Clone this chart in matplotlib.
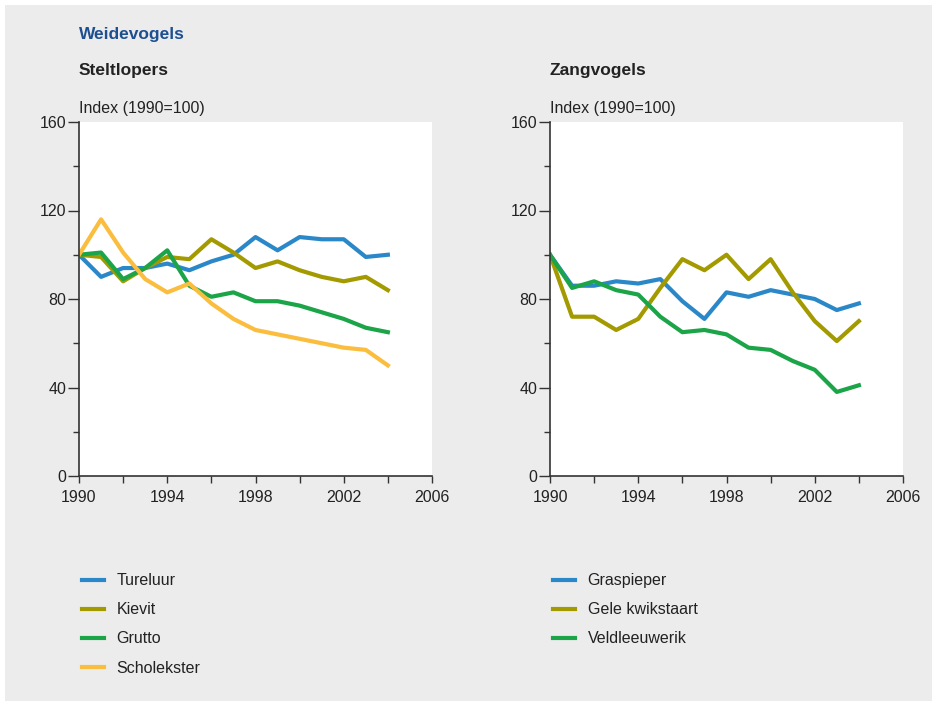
import matplotlib.pyplot as plt
from matplotlib.patches import Rectangle

plt.rcParams['font.family'] = ['Liberation Sans', 'DejaVu Sans']

# Data (index 1990 = 100)
years = list(range(1990, 2005))

tureluur = [100, 90, 94, 94, 96, 93, 97, 100, 108, 102, 108, 107, 107, 99, 100]
kievit = [100, 99, 88, 94, 99, 98, 107, 101, 94, 97, 93, 90, 88, 90, 84]
grutto = [100, 101, 89, 94, 102, 86, 81, 83, 79, 79, 77, 74, 71, 67, 65]
scholekster = [100, 116, 101, 89, 83, 87, 78, 71, 66, 64, 62, 60, 58, 57, 50]

graspieper = [100, 86, 86, 88, 87, 89, 79, 71, 83, 81, 84, 82, 80, 75, 78]
gele_kwikstaart = [100, 72, 72, 66, 71, 85, 98, 93, 100, 89, 98, 83, 70, 61, 70]
veldleeuwerik = [100, 85, 88, 84, 82, 72, 65, 66, 64, 58, 57, 52, 48, 38, 41]

x_major = [1990, 1994, 1998, 2002, 2006]
x_minor = [1992, 1996, 2000, 2004]
y_major = [0, 40, 80, 120, 160]
y_minor = [20, 60, 100, 140]

blue = "#2b88c8"
olive = "#a39a00"
green = "#1ca448"
yellow = "#fbbd3e"

fig = plt.figure(figsize=(9.37, 7.06), dpi=100)
fig.patch.set_facecolor("white")
fig.patches.append(Rectangle((5 / 937, 5 / 706), 927 / 937, 696 / 706,
                             transform=fig.transFigure, facecolor="#ececec",
                             edgecolor="none", zorder=-10))

ax1 = fig.add_axes([79 / 937, 1 - 476 / 706, 353 / 937, 354 / 706])
ax2 = fig.add_axes([550 / 937, 1 - 476 / 706, 353 / 937, 354 / 706])

left_series = [(tureluur, "Tureluur", blue), (kievit, "Kievit", olive),
               (grutto, "Grutto", green), (scholekster, "Scholekster", yellow)]
right_series = [(graspieper, "Graspieper", blue),
                (gele_kwikstaart, "Gele kwikstaart", olive),
                (veldleeuwerik, "Veldleeuwerik", green)]

for ax, series in [(ax1, left_series), (ax2, right_series)]:
    for vals, name, col in series:
        ax.plot(years, vals, color=col, lw=3, label=name)
    ax.set_facecolor("white")
    ax.set_xlim(1990, 2006)
    ax.set_ylim(0, 160)
    ax.set_xticks(x_major)
    ax.set_xticks(x_minor, minor=True)
    ax.set_yticks(y_major)
    ax.set_yticks(y_minor, minor=True)
    for s in ["top", "right"]:
        ax.spines[s].set_visible(False)
    for s in ["left", "bottom"]:
        ax.spines[s].set_color("#333333")
        ax.spines[s].set_linewidth(1.2)
    ax.tick_params(which="both", direction="out", colors="#333333",
                   labelcolor="#222222", labelsize=11.5, width=1)
    ax.tick_params(axis="y", which="major", length=8, pad=1)
    ax.tick_params(axis="y", which="minor", length=4)
    ax.tick_params(axis="x", which="both", length=5, pad=5)

fig.text(79 / 937, 1 - 34 / 706, "Weidevogels", color="#1d4f91",
         fontsize=12.5, fontweight="bold", va="center")
fig.text(79 / 937, 1 - 71 / 706, "Steltlopers", color="#222222",
         fontsize=12.5, fontweight="bold", va="center")
fig.text(550 / 937, 1 - 71 / 706, "Zangvogels", color="#222222",
         fontsize=12.5, fontweight="bold", va="center")
fig.text(79 / 937, 1 - 108 / 706, "Index (1990=100)", color="#222222",
         fontsize=11.5, va="center")
fig.text(550 / 937, 1 - 108 / 706, "Index (1990=100)", color="#222222",
         fontsize=11.5, va="center")

for ax, x0 in [(ax1, 68), (ax2, 539)]:
    ax.legend(loc="upper left", bbox_to_anchor=(x0 / 937, 1 - 559 / 706),
              bbox_transform=fig.transFigure, frameon=False, fontsize=11.5,
              handlelength=1.35, handletextpad=0.8, labelspacing=0.88,
              labelcolor="#222222")

fig.savefig("out.png", dpi=100, facecolor=fig.get_facecolor())
